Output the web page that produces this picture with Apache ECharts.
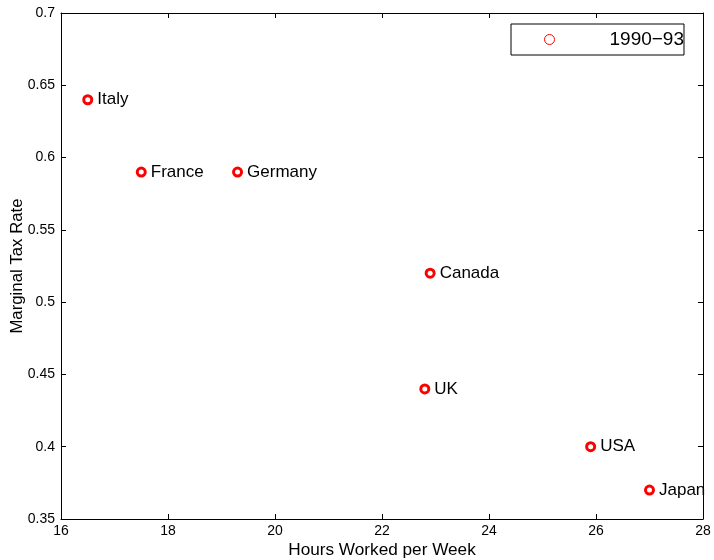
<!DOCTYPE html>
<html>
<head>
<meta charset="utf-8">
<script src="https://cdn.jsdelivr.net/npm/echarts@6/dist/echarts.min.js"></script>
<style>
  html, body { margin: 0; padding: 0; background: #fff; }
  #chart { width: 714px; height: 560px; }
</style>
</head>
<body>
<div id="chart"></div>
<script>
// Hours worked vs. marginal tax rate, 1990-93
const countries = ['Italy', 'France', 'Germany', 'Canada', 'UK', 'USA', 'Japan'];
const hoursPerWeek = [16.5, 17.5, 19.3, 22.9, 22.8, 25.9, 27.0];
const marginalTaxRate = [0.64, 0.59, 0.59, 0.52, 0.44, 0.40, 0.37];
const seriesName = '1990\u221293';

const FONT = '"Liberation Sans", Arial, Helvetica, sans-serif';

const points = countries.map((c, i) => ({ name: c, value: [hoursPerWeek[i], marginalTaxRate[i]] }));

const axisLine = { show: true, lineStyle: { color: '#000', width: 1 } };
const axisTick = { show: true, inside: true, length: 5, lineStyle: { color: '#000', width: 1 } };

const chart = echarts.init(document.getElementById('chart'));
chart.setOption({
  animation: false,
  backgroundColor: '#fff',
  textStyle: { fontFamily: FONT },
  grid: { left: 61, top: 13, right: 11, bottom: 41, containLabel: false, outerBoundsMode: 'none' },
  legend: {
    data: [seriesName],
    left: 511, top: 24,
    padding: [6, 0, 6, 33],
    borderColor: '#000', borderWidth: 1,
    backgroundColor: '#fff',
    icon: 'circle',
    itemWidth: 10, itemHeight: 10,
    itemStyle: { color: '#fff', borderColor: '#ff0000', borderWidth: 1 },
    textStyle: { fontFamily: FONT, fontSize: 19, color: '#000', padding: [0, 0, 0, 50] }
  },
  xAxis: [{
    type: 'value', min: 16, max: 28, interval: 2,
    name: 'Hours Worked per Week', nameLocation: 'middle', nameGap: 23,
    nameMoveOverlap: false,
    nameTextStyle: { fontFamily: FONT, fontSize: 17.2, color: '#000' },
    axisLine, axisTick,
    axisLabel: { fontFamily: FONT, fontSize: 14, color: '#000', margin: 5 },
    splitLine: { show: false }
  }, {
    type: 'value', position: 'top', min: 16, max: 28, interval: 2,
    axisLine, axisTick, axisLabel: { show: false }, splitLine: { show: false }
  }],
  yAxis: [{
    type: 'value', min: 0.35, max: 0.7, interval: 0.05,
    name: 'Marginal Tax Rate', nameLocation: 'middle', nameGap: 35,
    nameMoveOverlap: false,
    nameTextStyle: { fontFamily: FONT, fontSize: 16.8, color: '#000' },
    axisLine, axisTick,
    axisLabel: { fontFamily: FONT, fontSize: 14, color: '#000', margin: 6,
      formatter: v => String(parseFloat(v.toFixed(2))) },
    splitLine: { show: false }
  }, {
    type: 'value', position: 'right', min: 0.35, max: 0.7, interval: 0.05,
    axisLine, axisTick, axisLabel: { show: false }, splitLine: { show: false }
  }],
  series: [{
    name: seriesName,
    type: 'scatter',
    xAxisIndex: 0, yAxisIndex: 0,
    data: points,
    symbol: 'circle',
    symbolSize: 8,
    itemStyle: { color: '#fff', borderColor: '#ff0000', borderWidth: 3, opacity: 1 },
    label: {
      show: true, position: 'right', distance: 4,
      formatter: p => p.name,
      fontFamily: FONT, fontSize: 17, color: '#000'
    },
    clip: false
  }]
});
</script>
</body>
</html>
